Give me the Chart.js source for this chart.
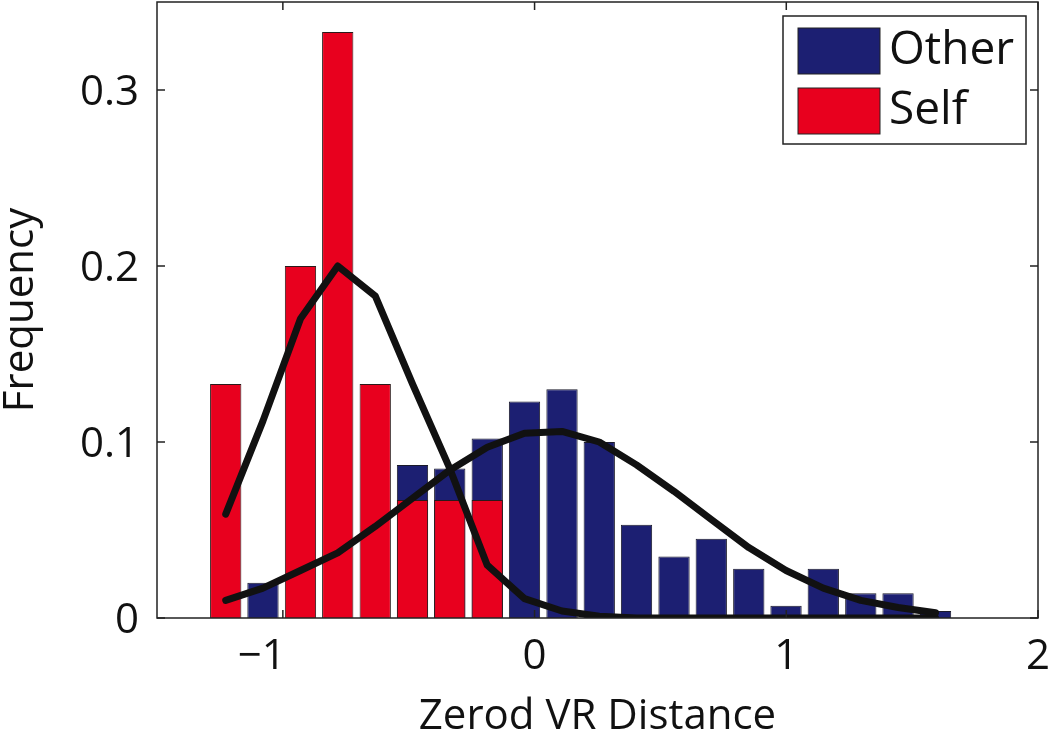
<!DOCTYPE html>
<html>
<head>
<meta charset="utf-8">
<script src="https://cdn.jsdelivr.net/npm/chart.js@4/dist/chart.umd.min.js"></script>
<style>
  html, body { margin: 0; padding: 0; background: #fff; }
</style>
</head>
<body>
<canvas id="histChart" width="1050" height="738"></canvas>
<script>
// bin centres on the Zerod VR Distance axis
const binCenters = [-1.227, -1.079, -0.930, -0.782, -0.633, -0.485, -0.337, -0.188, -0.040, 0.109,
                    0.257, 0.405, 0.554, 0.702, 0.851, 0.999, 1.147, 1.296, 1.444, 1.593];

// histogram frequencies (null = no visible bar)
const otherFreq = [null, 0.020, null, null, null, 0.087, 0.085, 0.102, 0.123, 0.130,
                   0.100, 0.053, 0.035, 0.045, 0.028, 0.007, 0.028, 0.014, 0.014, 0.004];
const selfFreq = [0.133, null, 0.200, 0.333, 0.133, 0.067, 0.067, 0.067, null, null,
                  null, null, null, null, null, null, null, null, null, null];

// fitted curves, sampled at the bin centres
const otherFit = [0.010, 0.017, 0.027, 0.037, 0.052, 0.068, 0.084, 0.097, 0.105, 0.106,
                  0.100, 0.087, 0.072, 0.056, 0.040, 0.027, 0.017, 0.010, 0.006, 0.003];
const selfFit = [0.059, 0.112, 0.170, 0.200, 0.183, 0.133, 0.085, 0.030, 0.011, 0.004,
                 0.001, 0.000, 0.000, 0.000, 0.000, 0.000, 0.000, 0.000, 0.000, 0.000];

const seriesNames = ['Other', 'Self'];
const xTicks = [-1, 0, 1, 2];
const yTicks = [0, 0.1, 0.2, 0.3];

const BLUE = '#1c1f72';
const RED = '#e8001e';
const INK = '#111111';
const FONT = '"Open Sans", "Noto Sans", sans-serif';

Chart.defaults.font.family = FONT;
Chart.defaults.color = INK;

function pts(values) {
  const out = [];
  values.forEach((v, i) => {
    if (v !== null) out.push({ x: binCenters[i], y: v });
  });
  return out;
}

// box round the plot with inward ticks on all four sides (matlab style)
const framePlugin = {
  id: 'frame',
  afterDatasetsDraw(chart) {
    const { ctx, chartArea: a, scales } = chart;
    ctx.save();
    ctx.strokeStyle = '#222';
    ctx.lineWidth = 1.5;
    ctx.strokeRect(a.left, a.top, a.right - a.left, a.bottom - a.top);
    ctx.beginPath();
    scales.x.ticks.forEach(t => {
      const px = scales.x.getPixelForValue(t.value);
      ctx.moveTo(px, a.bottom); ctx.lineTo(px, a.bottom - 8);
      ctx.moveTo(px, a.top); ctx.lineTo(px, a.top + 8);
    });
    scales.y.ticks.forEach(t => {
      const py = scales.y.getPixelForValue(t.value);
      ctx.moveTo(a.left, py); ctx.lineTo(a.left + 8, py);
      ctx.moveTo(a.right, py); ctx.lineTo(a.right - 8, py);
    });
    ctx.stroke();
    ctx.restore();
  }
};

// legend box in the upper right corner of the plot
const legendBox = {
  id: 'legendBox',
  afterDraw(chart) {
    const { ctx, chartArea: a } = chart;
    const items = chart.data.datasets.filter(d => d.type === 'bar');
    const boxW = 243, boxH = 128;
    const left = a.right - 12 - boxW;
    const top = a.top + 14;
    ctx.save();
    ctx.fillStyle = '#fff';
    ctx.fillRect(left, top, boxW, boxH);
    ctx.strokeStyle = '#222';
    ctx.lineWidth = 1.5;
    ctx.strokeRect(left, top, boxW, boxH);
    ctx.font = '46px ' + FONT;
    ctx.textBaseline = 'middle';
    ctx.textAlign = 'left';
    items.forEach((d, i) => {
      const sy = top + 12 + i * 60;
      ctx.fillStyle = d.backgroundColor;
      ctx.fillRect(left + 15, sy, 82, 46);
      ctx.lineWidth = 1;
      ctx.strokeRect(left + 15, sy, 82, 46);
      ctx.fillStyle = INK;
      ctx.fillText(d.label, left + 106, sy + 23);
    });
    ctx.restore();
  }
};

const ctxHist = document.getElementById('histChart').getContext('2d');

const chartHist = new Chart(ctxHist, {
  type: 'bar',
  data: {
    datasets: [
      {
        type: 'bar',
        label: seriesNames[0],
        data: pts(otherFreq),
        backgroundColor: BLUE,
        borderColor: '#1a1a2a',
        borderWidth: 1,
        grouped: false,
        barPercentage: 0.84,
        categoryPercentage: 1,
        order: 2
      },
      {
        type: 'bar',
        label: seriesNames[1],
        data: pts(selfFreq),
        backgroundColor: RED,
        borderColor: '#2a1a1a',
        borderWidth: 1,
        grouped: false,
        barPercentage: 0.84,
        categoryPercentage: 1,
        order: 1
      },
      {
        type: 'line',
        label: 'Other fit',
        data: pts(otherFit),
        borderColor: INK,
        borderWidth: 7,
        pointRadius: 0,
        tension: 0,
        fill: false,
        borderJoinStyle: 'round',
        borderCapStyle: 'round',
        order: 0
      },
      {
        type: 'line',
        label: 'Self fit',
        data: pts(selfFit),
        borderColor: INK,
        borderWidth: 7,
        pointRadius: 0,
        tension: 0,
        fill: false,
        borderJoinStyle: 'round',
        borderCapStyle: 'round',
        order: 0
      }
    ]
  },
  options: {
    responsive: false,
    animation: false,
    layout: { padding: { left: 0, right: 12, top: 2, bottom: 0 } },
    plugins: {
      legend: { display: false },
      tooltip: { enabled: false }
    },
    scales: {
      x: {
        type: 'linear',
        min: -1.5,
        max: 2,
        offset: false,
        grid: { display: false, drawTicks: false, offset: false },
        border: { display: false },
        afterBuildTicks: scale => { scale.ticks = xTicks.map(v => ({ value: v })); },
        afterFit: scale => {
          scale.height = 120;
          scale.paddingLeft = 0;
          scale.paddingRight = 0;
        },
        ticks: {
          font: { size: 42 },
          color: INK,
          padding: 14,
          maxRotation: 0,
          callback: v => (v < 0 ? '\u2212' + Math.abs(v) + '\u2003' : String(v))
        },
        title: {
          display: true,
          text: 'Zerod VR Distance',
          font: { size: 42, lineHeight: 1 },
          color: INK,
          padding: 0
        }
      },
      y: {
        min: 0,
        max: 0.35,
        grid: { display: false, drawTicks: false },
        border: { display: false },
        afterBuildTicks: scale => { scale.ticks = yTicks.map(v => ({ value: v })); },
        afterFit: scale => {
          scale.width = 157;
          scale.paddingTop = 0;
          scale.paddingBottom = 0;
        },
        ticks: {
          font: { size: 42 },
          color: INK,
          padding: 18,
          labelOffset: 3,
          callback: v => String(v)
        },
        title: {
          display: true,
          text: 'Frequency',
          font: { size: 42, lineHeight: 1 },
          color: INK,
          padding: 0
        }
      }
    }
  },
  plugins: [framePlugin, legendBox]
});
</script>
</body>
</html>
